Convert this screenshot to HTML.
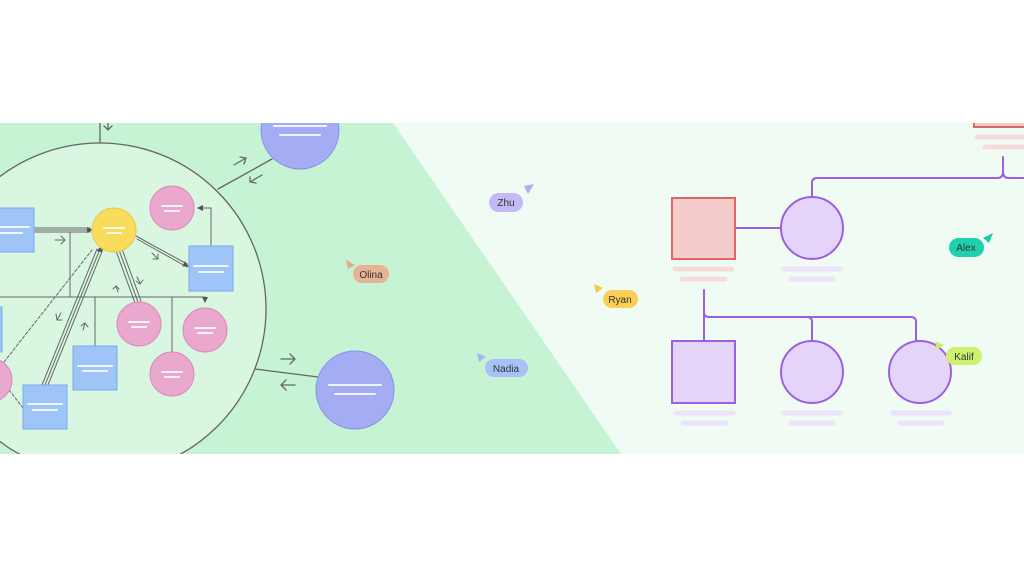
<!DOCTYPE html>
<html><head><meta charset="utf-8"><style>
body{margin:0;background:#fff;width:1024px;height:576px;overflow:hidden}
svg{display:block}
text{font-family:"Liberation Sans",sans-serif;font-size:10px;fill:#333}
</style></head><body>
<svg width="1024" height="576" viewBox="0 0 1024 576">
<defs>
<clipPath id="band"><rect x="0" y="123" width="1024" height="331"/></clipPath>
<marker id="ah" markerWidth="6" markerHeight="6" refX="5" refY="3" orient="auto"><path d="M0,0L6,3L0,6z" fill="#555"/></marker>
</defs>
<rect x="0" y="123" width="1024" height="331" fill="#f0fbf3"/>
<polygon points="0,123 393,123 621,454 0,454" fill="#c5f3d3"/>
<g clip-path="url(#band)" stroke-linecap="round">
<circle cx="100" cy="309" r="166" fill="#d9f6e1" stroke="#666" stroke-width="1.3"/>
<line x1="100" y1="123" x2="100" y2="143" stroke="#666" stroke-width="1.3"/>
<path d="M104,126l4,4l4,-4M108,122v8" stroke="#666" fill="none" stroke-width="1.3"/>
<line x1="218" y1="189" x2="272" y2="159" stroke="#666" stroke-width="1.3"/>
<line x1="255" y1="369" x2="318" y2="377" stroke="#666" stroke-width="1.3"/>
<path d="M234,165l12,-7M240,157l6,1l-2,6" stroke="#666" fill="none" stroke-width="1.3"/>
<path d="M262,175l-12,7M250,177l0,5l6,1" stroke="#666" fill="none" stroke-width="1.3"/>
<path d="M281,359h14M290,354l5,5l-5,5" stroke="#666" fill="none" stroke-width="1.3"/>
<path d="M295,385h-14M286,380l-5,5l5,5" stroke="#666" fill="none" stroke-width="1.3"/>
<g stroke="#666" stroke-width="1" fill="none">
<line x1="0" y1="297" x2="205" y2="297"/>
<line x1="205" y1="297" x2="205" y2="302" marker-end="url(#ah)"/>
<line x1="70" y1="232" x2="70" y2="297"/>
<line x1="95" y1="297" x2="95" y2="346"/>
<line x1="172" y1="297" x2="172" y2="352"/>
<path d="M34,228h56M34,230h56M34,232h56"/>
<line x1="90" y1="230" x2="92" y2="230" marker-end="url(#ah)"/>
<path d="M136,236l51,28M137,239l50,28"/>
<line x1="186" y1="265" x2="188" y2="266" marker-end="url(#ah)"/>
<path d="M211,246v-38h-12"/>
<line x1="202" y1="208" x2="198" y2="208" marker-end="url(#ah)"/>
<path d="M116,251l19,52M119,250l19,52M122,249l19,52"/>
<path d="M42,385l55,-136M45,385l55,-136M48,385l55,-136"/>
<line x1="100" y1="250" x2="101" y2="247" marker-end="url(#ah)"/>
<path d="M4,362l88,-112" stroke-dasharray="3,2"/>
<path d="M6,386l17,22" stroke-dasharray="3,2"/>
<path d="M55,240h10M61,236l4,4l-4,4"/>
<path d="M152,253l6,6M158,254v5h-5"/>
<path d="M137,277l3,6M136,281l4,3l3,-4"/>
<path d="M118,292l-2,-6M113,289l3,-3l3,3"/>
<path d="M61,313l-4,7M56,314l1,6l5,0"/>
<path d="M83,330l2,-7M81,326l4,-3l3,4"/>
</g>
<circle cx="114" cy="230" r="22" fill="#f9dc5c" stroke="#e9c84a"/>
<circle cx="172" cy="208" r="22" fill="#eba8cf" stroke="#d98ab8"/>
<circle cx="139" cy="324" r="22" fill="#eba8cf" stroke="#d98ab8"/>
<circle cx="205" cy="330" r="22" fill="#eba8cf" stroke="#d98ab8"/>
<circle cx="172" cy="374" r="22" fill="#eba8cf" stroke="#d98ab8"/>
<circle cx="-10" cy="380" r="22" fill="#eba8cf" stroke="#d98ab8"/>
<rect x="189" y="246" width="44" height="45" fill="#9fc5f8" stroke="#7aa9ea"/>
<rect x="-10" y="208" width="44" height="44" fill="#9fc5f8" stroke="#7aa9ea"/>
<rect x="73" y="346" width="44" height="44" fill="#9fc5f8" stroke="#7aa9ea"/>
<rect x="23" y="385" width="44" height="44" fill="#9fc5f8" stroke="#7aa9ea"/>
<rect x="-40" y="307" width="42" height="45" fill="#9fc5f8" stroke="#7aa9ea"/>
<circle cx="300" cy="130" r="39" fill="#a4adf4" stroke="#8892e6"/>
<circle cx="355" cy="390" r="39" fill="#a4adf4" stroke="#8892e6"/>
<g stroke="#fff" stroke-width="2" opacity="0.85">
<path d="M104,228h20M107,233h14"/><path d="M162,206h20M165,211h14"/>
<path d="M129,322h20M132,327h14"/><path d="M195,328h20M198,333h14"/>
<path d="M162,372h20M165,377h14"/>
<path d="M194,266h34M199,272h24"/><path d="M0,227h29M0,233h22"/>
<path d="M78,366h34M83,371h24"/><path d="M28,404h34M33,410h24"/>
<path d="M274,126h52M280,135h40"/><path d="M329,385h52M335,394h40"/>
</g>
<g stroke="#9b5fe0" stroke-width="2" fill="none">
<path d="M735,228h46"/>
<path d="M812,197v-14q0,-5 5,-5h180q6,0 6,-6v-15M1003,172q0,6 6,6h20"/>
<path d="M704,290v51M704,312q0,5 5,5h202q5,0 5,5v19M807,317q5,0 5,5v19"/>
</g>
<rect x="672" y="198" width="63" height="61" fill="#f4cccc" stroke="#e06666" stroke-width="2"/>
<rect x="974" y="110" width="60" height="17" fill="#f4cccc" stroke="#e06666" stroke-width="2"/>
<circle cx="812" cy="228" r="31" fill="#e4d5f8" stroke="#9b5fe0" stroke-width="2"/>
<rect x="672" y="341" width="63" height="62" fill="#e4d5f8" stroke="#9b5fe0" stroke-width="2"/>
<circle cx="812" cy="372" r="31" fill="#e4d5f8" stroke="#9b5fe0" stroke-width="2"/>
<circle cx="920" cy="372" r="31" fill="#e4d5f8" stroke="#9b5fe0" stroke-width="2"/>
<g stroke-width="5" stroke-linecap="round">
<path d="M675,269h57M682,279h43M977,137h50M985,147h40" stroke="#f8dcdc"/>
<path d="M784,269h56M791,279h42M676,413h57M683,423h43M784,413h56M791,423h42M893,413h56M900,423h42" stroke="#ece2fa"/>
</g>
</g>
<g>
<path d="M524,186l10,-2l-6,10z" fill="#b3a9f5"/>
<rect x="489" y="193" width="34" height="19" rx="9.5" fill="#c3b9f7"/><text x="506" y="206" text-anchor="middle">Zhu</text>
<path d="M346,260l9,5l-7,4z" fill="#e5a98b"/>
<rect x="353" y="265" width="36" height="18" rx="9" fill="#e8b294"/><text x="371" y="278" text-anchor="middle">Olina</text>
<path d="M594,284l9,4l-7,5z" fill="#f7c948"/>
<rect x="603" y="290" width="35" height="18" rx="9" fill="#f9cf55"/><text x="620" y="303" text-anchor="middle">Ryan</text>
<path d="M477,353l9,4l-7,5z" fill="#9fb9f5"/>
<rect x="485" y="359" width="43" height="18" rx="9" fill="#a8c2f7"/><text x="506" y="372" text-anchor="middle">Nadia</text>
<path d="M983,238l10,-5l-4,10z" fill="#1bc9a4"/>
<rect x="949" y="238" width="35" height="19" rx="9.5" fill="#1ed1ac"/><text x="966" y="251" text-anchor="middle">Alex</text>
<path d="M935,341l9,4l-7,5z" fill="#c7ef6a"/>
<rect x="946" y="347" width="36" height="18" rx="9" fill="#cdf26f"/><text x="964" y="360" text-anchor="middle">Kalif</text>
</g>
</svg>
</body></html>
